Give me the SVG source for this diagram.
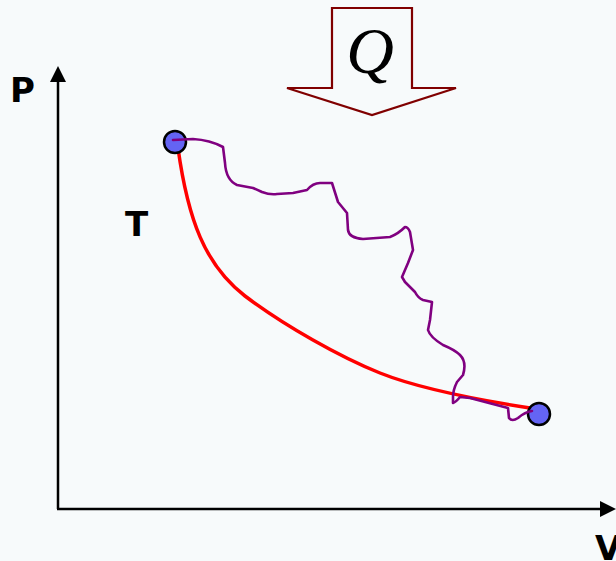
<svg xmlns="http://www.w3.org/2000/svg" width="616" height="561" viewBox="0 0 616 561">
<style>
.lbl{font-family:"DejaVu Sans","Liberation Sans",sans-serif;font-weight:bold;font-size:34px;fill:#000}
.axis{stroke:#000;stroke-width:2.5;fill:none}
.pt{fill:#6464f4;stroke:#000;stroke-width:2.5}
</style>
<defs>
<marker id="ah" viewBox="0 0 16 16" refX="2" refY="8" markerWidth="16" markerHeight="16" markerUnits="userSpaceOnUse" orient="auto">
<path d="M0,0 L16,8 L0,16 Z" fill="#000"/>
</marker>
</defs>
<rect width="616" height="561" fill="#f7fafb"/>
<g id="axes">
<path class="axis" d="M58,509 L58,80" marker-end="url(#ah)"/>
<path class="axis" d="M57,509 L602,509" marker-end="url(#ah)"/>
</g>
<text id="label-P" class="lbl" x="10" y="102">P</text>
<text id="label-T" class="lbl" x="125" y="236">T</text>
<text id="label-V" class="lbl" x="595" y="560">V</text>
<g id="heat-arrow">
<path d="M332,8 L412,8 L412,88 L456,88 L372,115 L287,88 L332,88 Z" fill="#f7fafb" stroke="#800000" stroke-width="2.2" stroke-linejoin="miter"/>
<text x="370" y="73" text-anchor="middle" font-family="'Liberation Serif','DejaVu Serif',serif" font-style="italic" font-size="66">Q</text>
</g>
<g id="connectors">
<path id="isotherm" d="M178,148 C188,220 205,265 245,296 C285,326 340,357 380,373 C410,385 460,397 530,408" fill="none" stroke="#ff0000" stroke-width="3.5"/>
</g>
<g id="state-1"><circle class="pt" cx="175" cy="142" r="11"/></g>
<g id="state-2"><circle class="pt" cx="539" cy="414" r="11"/></g>
<g id="irreversible-path">
<path d="M173,140 L193,139 Q210,140 223,147 L225,163 Q226,180 237,185 L253,188 Q258,190 262,192 Q270,195 277,194 L293,193 L307,190 Q313,183 320,183 L332,183 L338,202 L347,213 L348,230 Q349,238 363,239 L390,237 Q398,234 405,227 Q408,227 410,232 L413,250 L408,263 L402,277 L405,282 L415,292 Q418,298 423,300 L432,302 L430,320 L428,330 Q430,337 443,345 Q455,350 460,355 Q467,362 463,375 L457,382 Q453,390 453,397 L453,403 Q456,402 460,397 L470,398 L508,408 L509,418 Q512,422 518,418 Q525,412 532,411" fill="none" stroke="#800080" stroke-width="2.6" stroke-linejoin="round" stroke-linecap="round"/>
</g>
</svg>
